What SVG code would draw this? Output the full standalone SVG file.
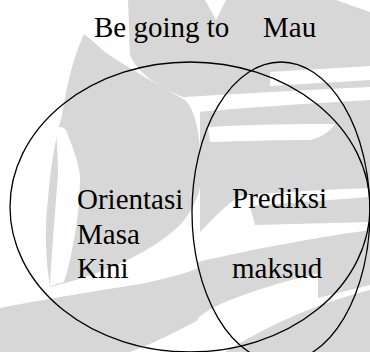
<svg xmlns="http://www.w3.org/2000/svg" width="370" height="352" viewBox="0 0 370 352">
<style>
.wm{fill:#d7d7d7;stroke:none}
.wh{fill:#ffffff;stroke:none}
.set{fill:none;stroke:#000;stroke-width:1.3}
.lbl{font-family:"Liberation Serif","Times New Roman",serif;font-size:29px;fill:#000}
</style>
<rect width="370" height="352" fill="#fff"/>
<g id="watermark">
<path class="wm" d="M128,0 H205 L216,20 L226,0 H336 L370,12 V176 H200 V112 C195,104 190,100 185,98 C160,88 138,74 130,55 Z"/>
<path class="wh" d="M270,72 C300,70 340,68 370,66 V80 C340,82 300,84 270,86 Z"/>
<path class="wh" d="M185,97 C240,94 300,90 370,87 V100 C300,104 240,108 185,113 Z"/>
<path class="wh" d="M208,127 C240,125 280,124 335,124 C330,132 320,138 310,140 C280,140 240,141 210,142 Z"/>
<path class="wm" d="M84,34 C92,40 98,46 105,52 C125,66 160,86 185,100 C195,110 200,130 202,176 C200,195 192,212 180,225 C165,240 140,255 110,268 C90,276 70,282 50,287 C46,260 44,230 48,200 C50,170 55,140 62,115 C66,90 72,60 84,34 Z"/>
<path class="wh" d="M56,128 C60,126 63,127 66,130 C72,145 78,160 80,176 C80,210 74,250 64,282 L50,286 C52,250 55,210 58,176 C58,160 57,145 56,128 Z"/>
<path class="wm" d="M200,176 H370 V188 C320,190 280,192 240,196 C225,205 212,220 200,232 Z"/>
<path class="wm" d="M250,206 C290,203 330,200 370,197 V222 C330,223 290,224 255,225 Z"/>
<path class="wm" d="M198,262 C240,252 300,240 370,230 V262 C320,272 270,284 230,300 C215,306 205,312 198,318 Z"/>
<path class="wm" d="M0,308 C40,300 90,292 140,284 C170,278 190,272 198,268 L198,320 C180,330 150,345 130,352 H0 Z"/>
<path class="wm" d="M225,352 C260,330 310,305 370,290 V352 Z"/>
<path class="wm" d="M318,262 L370,255 V285 L318,298 Z"/>
</g>
<g id="connectors"></g>
<g id="set-be-going-to">
<ellipse class="set" cx="190" cy="207" rx="180" ry="145"/>
<text class="lbl" x="94" y="37">Be going to</text>
</g>
<g id="set-mau">
<ellipse class="set" cx="281" cy="212" rx="89" ry="150"/>
<text class="lbl" x="263" y="37">Mau</text>
</g>
<g id="region-be-going-to-only">
<text class="lbl" x="77" y="209">Orientasi</text>
<text class="lbl" x="77" y="244">Masa</text>
<text class="lbl" x="77" y="278">Kini</text>
</g>
<g id="region-overlap">
<text class="lbl" x="232" y="208">Prediksi</text>
<text class="lbl" x="232" y="278">maksud</text>
</g>
</svg>
